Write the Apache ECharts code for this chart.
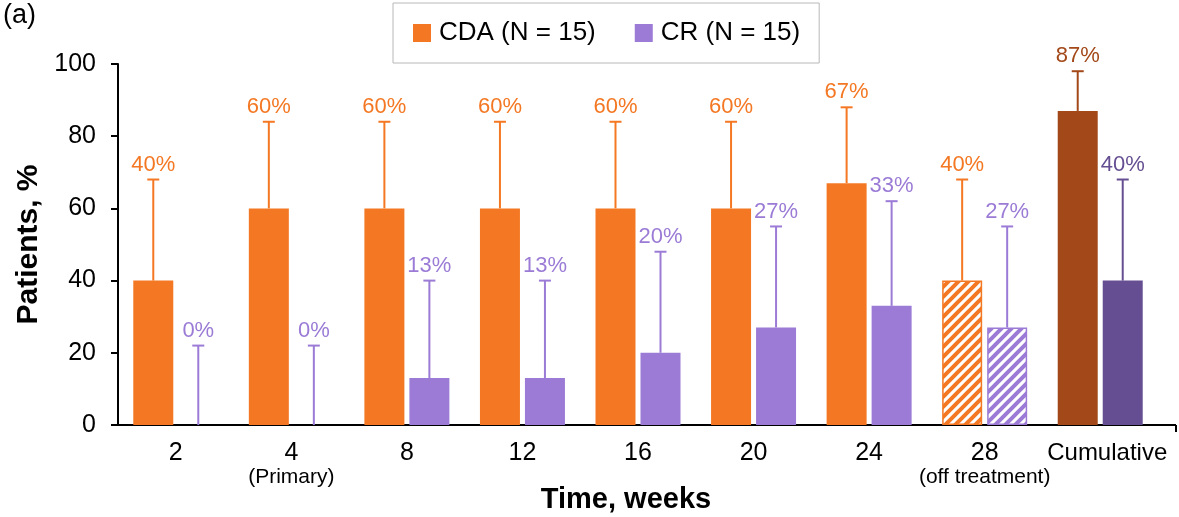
<!DOCTYPE html>
<html>
<head>
<meta charset="utf-8">
<script src="https://cdn.jsdelivr.net/npm/echarts@6/dist/echarts.min.js"></script>
<style>
  html, body { margin: 0; padding: 0; background: #fff; }
  #chart { width: 1179px; height: 517px; }
</style>
</head>
<body>
<div id="chart"></div>
<script>
// Response rates by visit week, with upper confidence limits
const categories = ['2', '4', '8', '12', '16', '20', '24', '28', 'Cumulative'];
const subLabels = ['', '(Primary)', '', '', '', '', '', '(off treatment)', ''];
const cdaValues = [40, 60, 60, 60, 60, 60, 67, 40, 87];
const cdaUpper = [68, 84, 84, 84, 84, 84, 88, 68, 98];
const crValues = [0, 0, 13, 13, 20, 27, 33, 27, 40];
const crUpper = [22, 22, 40, 40, 48, 55, 62, 55, 68];
const seriesNames = ['CDA (N = 15)', 'CR (N = 15)'];

// Styling
const FONT = '"Liberation Sans", Arial, Helvetica, sans-serif';
const ORANGE = '#F47823';
const PURPLE = '#9B7BD6';
const BROWN = '#A24819';
const DARK_PURPLE = '#654F92';
const HATCHED_CAT = '28';
const CUMULATIVE_CAT = 'Cumulative';
const BAR_W = 40;
const BAR_GAP = 5;
const OFFSET = (BAR_W + BAR_GAP) / 2;
const GRID = { left: 118, right: 21, top: 64, bottom: 92 };
const W = 1179, H = 517;

function stripePattern(color) {
  const s = 10;
  const c = document.createElement('canvas');
  c.width = s; c.height = s;
  const g = c.getContext('2d');
  g.fillStyle = '#fff';
  g.fillRect(0, 0, s, s);
  g.strokeStyle = color;
  g.lineWidth = 4;
  g.beginPath();
  g.moveTo(-2, s + 2); g.lineTo(s + 2, -2);
  g.moveTo(-s / 2 - 2, s / 2 + 2); g.lineTo(s / 2 + 2, -s / 2 - 2);
  g.moveTo(s / 2 - 2, s * 1.5 + 2); g.lineTo(s * 1.5 + 2, s / 2 - 2);
  g.stroke();
  return { image: c, repeat: 'repeat' };
}

function barData(values, base, special, hatchColor) {
  return values.map((v, i) => {
    const cat = categories[i];
    if (cat === HATCHED_CAT) {
      return { value: v, itemStyle: { color: stripePattern(hatchColor), borderColor: hatchColor, borderWidth: 1.5 } };
    }
    if (cat === CUMULATIVE_CAT) {
      return { value: v, itemStyle: { color: special } };
    }
    return { value: v, itemStyle: { color: base } };
  });
}

function errorSeries(name, values, upper, offset, base, special) {
  const colorFor = i => categories[i] === CUMULATIVE_CAT ? special : base;
  return {
    type: 'custom',
    name: name,
    z: 5,
    clip: false,
    data: values.map((v, i) => [i, v, upper[i]]),
    renderItem: function (params, api) {
      const i = api.value(0);
      const b = api.coord([i, api.value(1)]);
      const t = api.coord([i, api.value(2)]);
      const x = b[0] + offset;
      const c = colorFor(i);
      return {
        type: 'group',
        children: [
          { type: 'line', shape: { x1: x, y1: b[1], x2: x, y2: t[1] }, style: { stroke: c, lineWidth: 2 } },
          { type: 'line', shape: { x1: x - 6, y1: t[1], x2: x + 6, y2: t[1] }, style: { stroke: c, lineWidth: 2 } },
          { type: 'text', x: x, y: t[1] - 4,
            style: { text: api.value(1) + '%', fill: c, fontSize: 22, fontFamily: FONT, align: 'center', verticalAlign: 'bottom' } }
        ]
      };
    }
  };
}

const chart = echarts.init(document.getElementById('chart'), null, { renderer: 'canvas' });

const axisRight = W - GRID.right;
const axisY = H - GRID.bottom;

chart.setOption({
  animation: false,
  backgroundColor: '#fff',
  textStyle: { fontFamily: FONT },
  graphic: [
    { type: 'text', left: 3, top: 2, style: { text: '(a)', fontSize: 27, fontFamily: FONT, fill: '#000' } },
    // the category axis line runs a little past the last band
    { type: 'line', shape: { x1: axisRight - 1, y1: axisY, x2: 1176, y2: axisY }, style: { stroke: '#000', lineWidth: 2 } },
    { type: 'line', shape: { x1: 1176, y1: axisY, x2: 1176, y2: axisY + 7 }, style: { stroke: '#000', lineWidth: 2 } }
  ],
  legend: {
    data: seriesNames,
    left: 393,
    top: 3,
    padding: [17, 19, 17, 20],
    borderColor: '#b8b8b8',
    borderWidth: 1,
    itemWidth: 18,
    itemHeight: 18,
    itemGap: 39,
    icon: 'rect',
    selectedMode: false,
    textStyle: { fontSize: 26, fontFamily: FONT, color: '#000', padding: [0, 0, 0, 3] }
  },
  grid: {
    left: GRID.left, right: GRID.right, top: GRID.top, bottom: GRID.bottom,
    containLabel: false, outerBoundsMode: 'none'
  },
  xAxis: {
    type: 'category',
    data: categories,
    name: 'Time, weeks',
    nameLocation: 'middle',
    nameGap: 60,
    nameMoveOverlap: false,
    nameTextStyle: { fontSize: 29, fontWeight: 'bold', fontFamily: FONT, color: '#000', padding: [0, 24, 0, 0] },
    axisLine: { lineStyle: { color: '#000', width: 2 } },
    axisTick: { length: 7, lineStyle: { color: '#000', width: 2 } },
    axisLabel: {
      margin: 15,
      interval: 0,
      formatter: function (v, i) {
        if (v === CUMULATIVE_CAT) return '{c|' + v + '}';
        const sub = subLabels[i];
        return sub ? '{n|' + v + '}\n{s|' + sub + '}' : '{n|' + v + '}';
      },
      rich: {
        n: { fontSize: 25, lineHeight: 26, fontFamily: FONT, color: '#000' },
        s: { fontSize: 21, lineHeight: 22, fontFamily: FONT, color: '#000' },
        c: { fontSize: 24, lineHeight: 26, fontFamily: FONT, color: '#000', padding: [0, 0, 0, 14] }
      }
    }
  },
  yAxis: {
    type: 'value',
    min: 0,
    max: 100,
    interval: 20,
    name: 'Patients, %',
    nameLocation: 'middle',
    nameGap: 74,
    nameMoveOverlap: false,
    nameTextStyle: { fontSize: 30, fontWeight: 'bold', fontFamily: FONT, color: '#000' },
    axisLine: { show: true, lineStyle: { color: '#000', width: 2 } },
    axisTick: { show: true, length: 7, lineStyle: { color: '#000', width: 2 } },
    axisLabel: { fontSize: 25, fontFamily: FONT, color: '#000', margin: 22 },
    splitLine: { show: false }
  },
  series: [
    {
      type: 'bar',
      name: seriesNames[0],
      barWidth: BAR_W,
      barGap: (BAR_GAP / BAR_W * 100) + '%',
      itemStyle: { color: ORANGE },
      data: barData(cdaValues, ORANGE, BROWN, ORANGE)
    },
    {
      type: 'bar',
      name: seriesNames[1],
      barWidth: BAR_W,
      itemStyle: { color: PURPLE },
      data: barData(crValues, PURPLE, DARK_PURPLE, PURPLE)
    },
    errorSeries('CDA upper limit', cdaValues, cdaUpper, -OFFSET, ORANGE, BROWN),
    errorSeries('CR upper limit', crValues, crUpper, OFFSET, PURPLE, DARK_PURPLE)
  ]
});
</script>
</body>
</html>
